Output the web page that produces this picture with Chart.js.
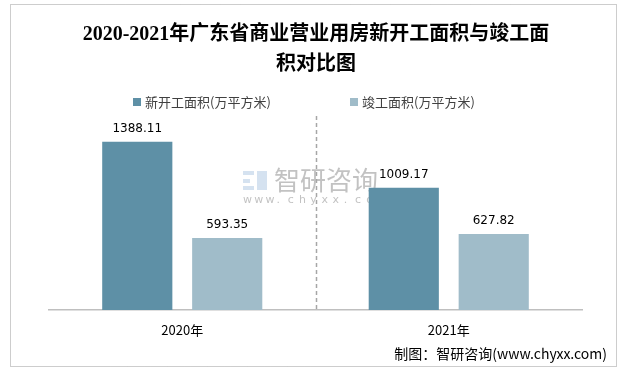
<!DOCTYPE html>
<html>
<head>
<meta charset="utf-8">
<script src="https://cdn.jsdelivr.net/npm/chart.js@4.4.1/dist/chart.umd.min.js"></script>
<style>
html,body{margin:0;padding:0;background:#fff;}
canvas{display:block;}
</style>
</head>
<body>
<canvas id="c" width="625" height="375"></canvas>
<script>
const categories = ["2020年", "2021年"];
const seriesNames = ["新开工面积(万平方米)", "竣工面积(万平方米)"];
const newStartValues = [1388.11, 1009.17];
const completedValues = [593.35, 627.82];
const titleLines = ["2020-2021年广东省商业营业用房新开工面积与竣工面", "积对比图"];
const sourceText = "制图：智研咨询(www.chyxx.com)";
const colors = ["#5E90A6", "#A0BCC9"];

const CJK = '"Noto Sans CJK SC", "Noto Sans", sans-serif';

const decorPlugin = {
  id: 'decor',
  beforeDraw(chart) {
    const ctx = chart.ctx;
    ctx.save();
    // outer dotted border
    ctx.strokeStyle = '#9a9a9a';
    ctx.lineWidth = 1;
    ctx.setLineDash([1, 1]);
    ctx.strokeRect(10.5, 4.5, 606, 362);
    ctx.setLineDash([]);
    // watermark
    ctx.globalAlpha = 0.6;
    ctx.fillStyle = '#b9cfe6';
    ctx.fillRect(243, 171, 11, 4);
    ctx.fillRect(243, 179, 7, 4);
    ctx.fillRect(243, 186, 11, 4);
    ctx.fillRect(257, 171, 10, 19);
    ctx.fillStyle = '#999';
    ctx.font = '26px ' + CJK;
    ctx.textAlign = 'left';
    ctx.textBaseline = 'middle';
    ctx.fillText('智研咨询', 274, 180);
    ctx.font = '11px "DejaVu Sans", sans-serif';
    const wm = 'www.chyxx.com';
    for (let i = 0; i < wm.length; i++) {
      ctx.fillText(wm[i], 243 + i * 11.2, 200);
    }
    ctx.restore();
  },
  afterDraw(chart) {
    const ctx = chart.ctx;
    const area = chart.chartArea;
    ctx.save();
    // title
    ctx.fillStyle = '#000';
    ctx.textAlign = 'center';
    ctx.textBaseline = 'middle';
    ctx.font = 'bold 20px "Liberation Serif", "Noto Sans CJK SC", serif';
    ctx.fillText(titleLines[0], 316, 35);
    ctx.fillText(titleLines[1], 316, 65);
    // legend
    ctx.font = '13px ' + CJK;
    ctx.textAlign = 'left';
    const legendX = [133, 350];
    chart.data.datasets.forEach((ds, i) => {
      ctx.fillStyle = ds.backgroundColor;
      ctx.fillRect(legendX[i], 98, 8, 8);
      ctx.fillStyle = '#404040';
      ctx.fillText(ds.label, legendX[i] + 12, 102);
    });
    // divider between categories
    const xs = chart.scales.x;
    const midX = Math.round((xs.getPixelForValue(0) + xs.getPixelForValue(1)) / 2) + 0.5;
    ctx.strokeStyle = '#a6a6a6';
    ctx.lineWidth = 1.5;
    ctx.setLineDash([4, 3]);
    ctx.beginPath();
    ctx.moveTo(midX, area.top);
    ctx.lineTo(midX, area.bottom);
    ctx.stroke();
    ctx.setLineDash([]);
    // value labels
    ctx.fillStyle = '#000';
    ctx.textAlign = 'center';
    ctx.font = '12px "DejaVu Sans", sans-serif';
    chart.data.datasets.forEach((ds, i) => {
      const meta = chart.getDatasetMeta(i);
      meta.data.forEach((bar, j) => {
        ctx.fillText(ds.data[j].toFixed(2), bar.x, bar.y - 13);
      });
    });
    // source
    ctx.font = '14px ' + CJK;
    ctx.textAlign = 'right';
    ctx.fillStyle = '#000';
    ctx.fillText(sourceText, 607, 354);
    ctx.restore();
  }
};

new Chart(document.getElementById('c'), {
  type: 'bar',
  data: {
    labels: categories,
    datasets: [
      { label: seriesNames[0], data: newStartValues, backgroundColor: colors[0] },
      { label: seriesNames[1], data: completedValues, backgroundColor: colors[1] }
    ]
  },
  options: {
    responsive: false,
    animation: false,
    devicePixelRatio: 1,
    layout: { padding: { top: 116, left: 49, right: 43, bottom: 0 } },
    plugins: { legend: { display: false }, title: { display: false }, tooltip: { enabled: false } },
    datasets: { bar: { categoryPercentage: 0.675, barPercentage: 0.78 } },
    scales: {
      y: { display: false, min: 0, max: 1600 },
      x: {
        grid: { display: false, drawTicks: false },
        border: { display: true, color: '#bfbfbf', width: 1.5 },
        ticks: { padding: 12, color: '#000', font: { family: CJK, size: 13 } },
        afterFit(s) { s.height = 65; }
      }
    }
  },
  plugins: [decorPlugin]
});
</script>
</body>
</html>
